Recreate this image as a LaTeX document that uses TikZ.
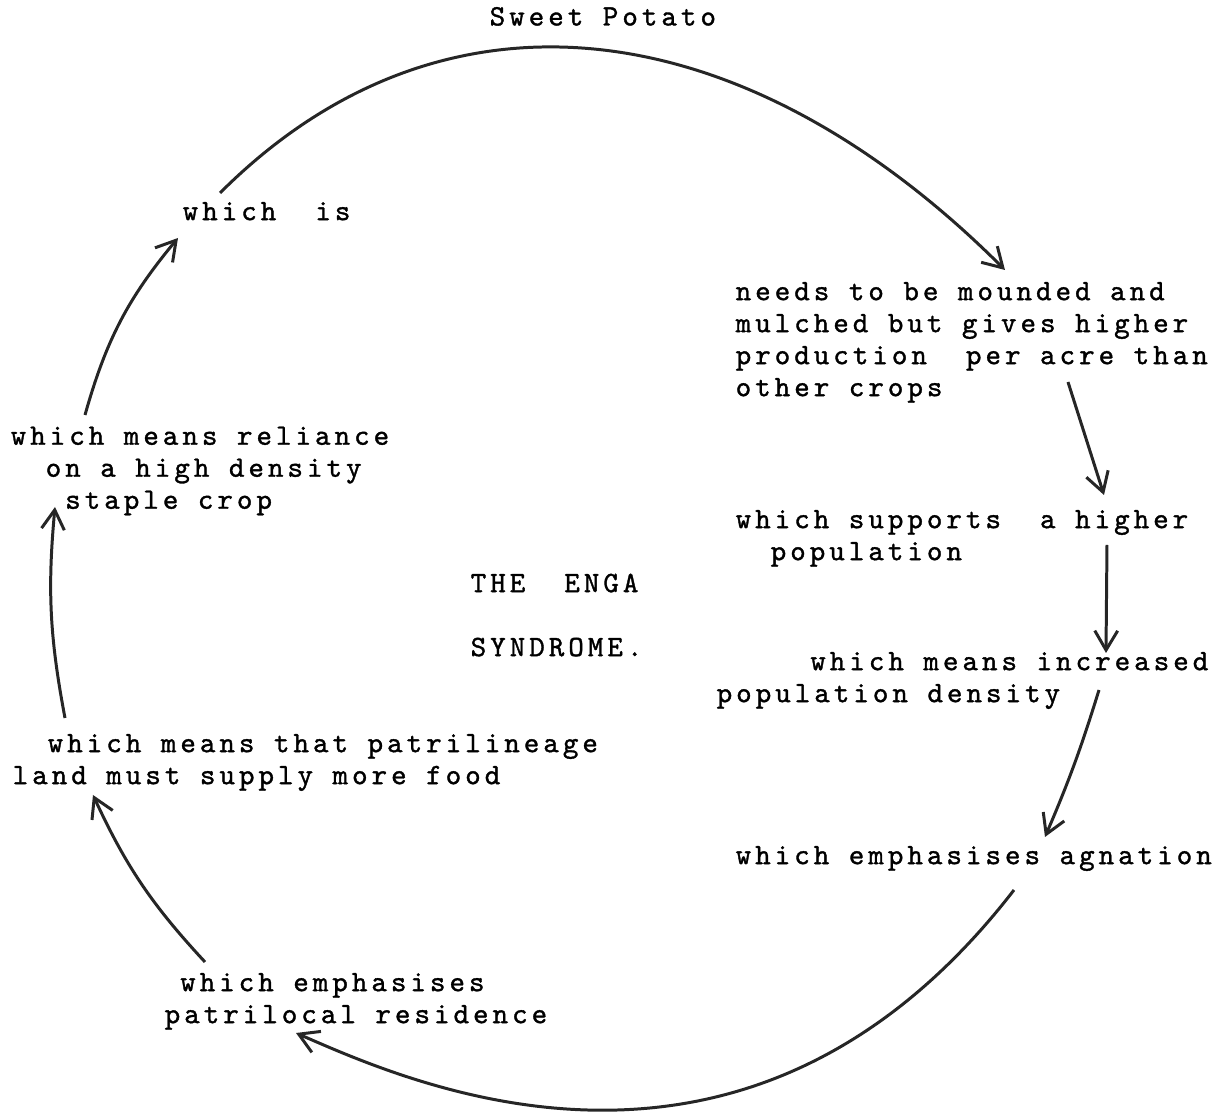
\documentclass[tikz,border=0pt]{standalone}
\usepackage{fontspec}
\usetikzlibrary{arrows.meta}

\newfontfamily\twfont{lmmono10-regular.otf}[LetterSpace=13.6, FakeBold=1.2]
\newcommand\typewriter{\twfont\fontsize{8.4}{9.1}\selectfont}

\begin{document}
\begin{tikzpicture}[x=0.01cm, y=-0.01cm,
    txt/.style={anchor=north west, inner sep=0pt, align=left, font=\typewriter},
    arr/.style={-{Straight Barb[length=5.5pt,width=6.5pt]}, line width=0.85pt, black!85}]

    \useasboundingbox (0,0) rectangle (1220,1119);

    % Textos do ciclo
    \node[txt] (potato) at (489,6.4) {Sweet Potato};
    \node[txt] (which) at (182,201.4) {which~ is};
    \node[txt] (mounded) at (735,281.4) {needs to be mounded and\\mulched but gives higher\\production~ per acre than\\other crops};
    \node[txt] (supports) at (735,509.4) {which supports~ a higher\\\hphantom{xx}population};
    \node[txt] (density) at (716,651.4) {\hphantom{xxxxx}which means increased\\population density};
    \node[txt] (agnation) at (735,845.4) {which emphasises agnation};
    \node[txt] (residence) at (164,972.4) {\hphantom{x}which emphasises\\patrilocal residence};
    \node[txt] (patrilineage) at (12,733.4) {\hphantom{xx}which means that patrilineage\\land must supply more food};
    \node[txt] (reliance) at (10,426) {which means reliance\\\hphantom{xx}on a high density\\\hphantom{xxx}staple crop};

    % Titulo no centro
    \node[txt] (syndrome) at (470,573) {THE~ ENGA\\[\baselineskip]SYNDROME.};

    % Arco de cima
    \draw[arr] ([shift={(38,-8.4)}]which.north west) .. controls +(225.4,-225.4) and +(-258.6,-258.6) .. ([shift={(270,-11.4)}]mounded.north west);

    % Setas do lado direito
    \draw[arr] ([shift={(333,100.6)}]mounded.north west) -- ([shift={(369,-14.4)}]supports.north west);
    \draw[arr] ([shift={(372,35.6)}]supports.north west) -- ([shift={(390,1.6)}]density.north west);
    \draw[arr] ([shift={(383,38.6)}]density.north west) to[bend left=3] ([shift={(310,-8.4)}]agnation.north west);

    % Arco de baixo
    \draw[arr] ([shift={(279,44.6)}]agnation.north west) .. controls +(-266,344) and +(119,52) .. ([shift={(132,60.6)}]residence.north west);

    % Setas do lado esquerdo
    \draw[arr] ([shift={(41,-10.4)}]residence.north west) to[bend left=9] ([shift={(81,61.6)}]patrilineage.north west);
    \draw[arr] ([shift={(53,-15.4)}]patrilineage.north west) to[bend left=8] ([shift={(45,81)}]reliance.north west);
    \draw[arr] ([shift={(75,-11)}]reliance.north west) to[bend left=12] ([shift={(-4,36.6)}]which.north west);

\end{tikzpicture}
\end{document}
